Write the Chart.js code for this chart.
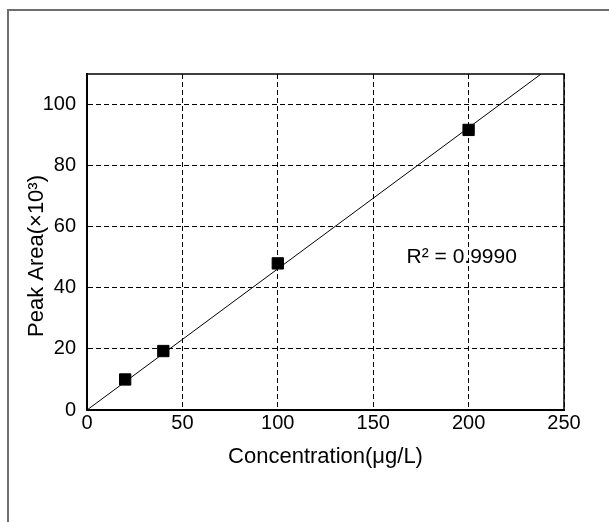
<!DOCTYPE html>
<html>
<head>
<meta charset="utf-8">
<script src="https://cdn.jsdelivr.net/npm/chart.js@4"></script>
<style>
    body { margin: 0; background: #fff; }
    #frame {
        position: absolute; left: 7px; top: 9px; width: 700px; height: 600px;
        border-left: 2px solid #6e6e6e; border-top: 2px solid #6e6e6e;
    }
    #wrap { position: absolute; left: 0; top: 0; width: 609px; height: 522px; }
</style>
</head>
<body>
<div id="frame"></div>
<div id="wrap"><canvas id="chart" width="609" height="522"></canvas></div>
<script>
// 標準曲線資料
const concentrations = [20, 40, 100, 200];
const peakAreas = [10.0, 19.3, 48.0, 91.7];
const fitX = [0, 238];
const fitY = [0, 110];
const xTicks = [0, 50, 100, 150, 200, 250];
const yTicks = [0, 20, 40, 60, 80, 100];
const r2Text = 'R² = 0.9990';
const r2Pos = { x: 168, y: 50 };
const yTitleText = 'Peak Area(×10³)';

const fontFamily = '"Liberation Sans", Arial, sans-serif';

// 畫出上、右外框
const frameBox = {
    id: 'frameBox',
    afterDraw(chart) {
        const a = chart.chartArea;
        const ctx = chart.ctx;
        ctx.save();
        ctx.strokeStyle = '#000';
        ctx.lineWidth = 1.5;
        ctx.beginPath();
        ctx.moveTo(a.left, a.top);
        ctx.lineTo(a.right, a.top);
        ctx.lineTo(a.right, a.bottom);
        ctx.stroke();
        ctx.restore();
    }
};

// R² 標註與 Y 軸標題 (原圖標題略偏下)
const textLabels = {
    id: 'textLabels',
    afterDatasetsDraw(chart) {
        const ctx = chart.ctx;
        const x = chart.scales.x.getPixelForValue(r2Pos.x);
        const y = chart.scales.y.getPixelForValue(r2Pos.y);
        ctx.save();
        ctx.fillStyle = '#000';
        ctx.font = '21px ' + fontFamily;
        ctx.textAlign = 'left';
        ctx.textBaseline = 'middle';
        ctx.fillText(r2Text, x - 1, y);

        const a = chart.chartArea;
        ctx.translate(37, (a.top + a.bottom) / 2 + 14);
        ctx.rotate(-Math.PI / 2);
        ctx.font = '22px ' + fontFamily;
        ctx.textAlign = 'center';
        ctx.fillText(yTitleText, 0, 0);
        ctx.restore();
    }
};

new Chart(document.getElementById('chart'), {
    type: 'scatter',
    data: {
        datasets: [
            {
                type: 'line',
                data: fitX.map((x, i) => ({ x: x, y: fitY[i] })),
                borderColor: '#000',
                borderWidth: 1,
                pointRadius: 0,
                fill: false,
                order: 2
            },
            {
                data: concentrations.map((x, i) => ({ x: x, y: peakAreas[i] })),
                pointStyle: 'rect',
                pointRadius: 8,
                backgroundColor: '#000',
                borderColor: '#000',
                borderWidth: 1,
                order: 1
            }
        ]
    },
    options: {
        responsive: false,
        animation: false,
        layout: {
            padding: { left: 20, top: 74, right: 45, bottom: 52 }
        },
        plugins: {
            legend: { display: false },
            tooltip: { enabled: false }
        },
        scales: {
            x: {
                type: 'linear',
                min: 0,
                max: 250,
                afterBuildTicks: (s) => { s.ticks = xTicks.map(v => ({ value: v })); },
                afterFit: (s) => { s.height = 60; },
                grid: {
                    color: '#000',
                    lineWidth: 1,
                    drawTicks: false
                },
                border: { color: '#000', width: 2, dash: [5, 3] },
                ticks: {
                    color: '#000',
                    padding: 1,
                    font: { family: fontFamily, size: 20 }
                },
                title: {
                    display: true,
                    text: 'Concentration(μg/L)',
                    color: '#000',
                    padding: { top: 2, bottom: 0 },
                    font: { family: fontFamily, size: 22 }
                }
            },
            y: {
                type: 'linear',
                min: 0,
                max: 110,
                afterBuildTicks: (s) => { s.ticks = yTicks.map(v => ({ value: v })); },
                afterFit: (s) => { s.width = 87 - 20; },
                grid: {
                    color: '#000',
                    lineWidth: 1,
                    drawTicks: false
                },
                border: { color: '#000', width: 2, dash: [5, 3] },
                ticks: {
                    color: '#000',
                    padding: 11,
                    font: { family: fontFamily, size: 20 }
                }
            }
        }
    },
    plugins: [frameBox, textLabels]
});
</script>
</body>
</html>
